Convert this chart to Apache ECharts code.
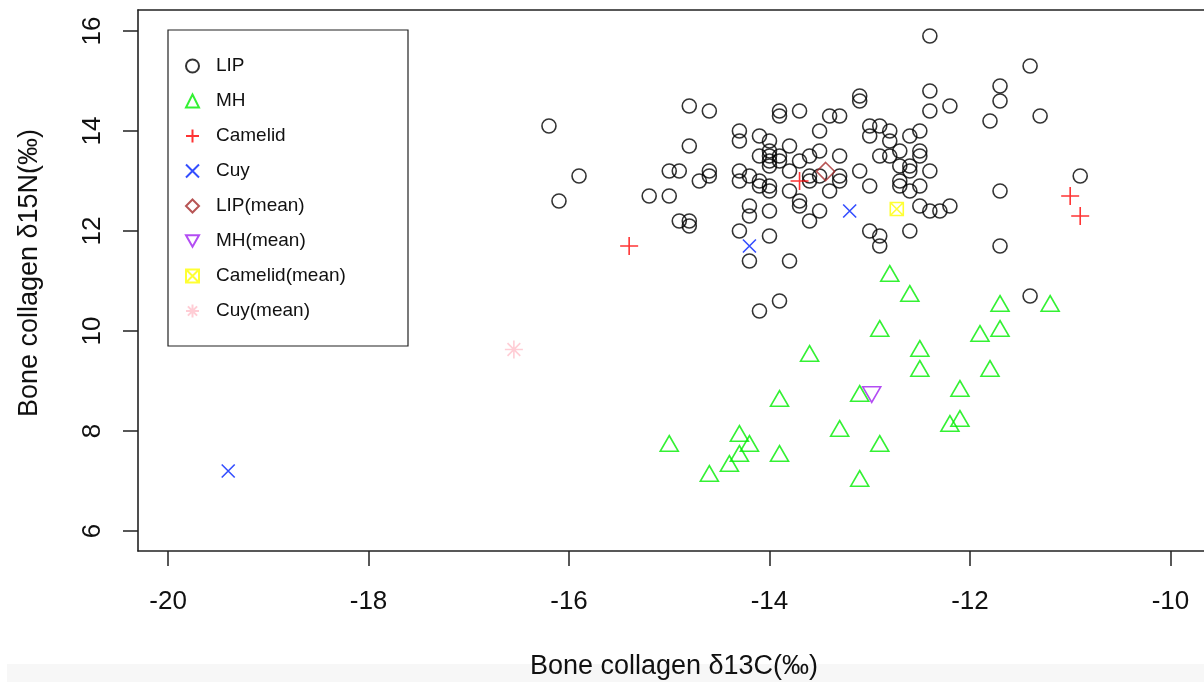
<!DOCTYPE html>
<html>
<head>
<meta charset="utf-8">
<script src="https://cdn.jsdelivr.net/npm/echarts@6/dist/echarts.min.js"></script>
<style>
html,body{margin:0;padding:0;background:#fff;}
#chart{width:1204px;height:682px;}
</style>
</head>
<body>
<div id="chart"></div>
<script>
// ---- data (δ13C, δ15N) ----
var lipPoints = [
  [-16.2,14.1],[-16.1,12.6],[-15.9,13.1],[-14.8,14.5],[-14.6,14.4],[-14.8,13.7],[-15.0,13.2],[-14.9,13.2],
  [-14.6,13.2],[-14.6,13.1],[-14.7,13.0],[-15.2,12.7],[-15.0,12.7],[-14.9,12.2],[-14.8,12.2],[-14.8,12.1],
  [-14.3,14.0],[-14.3,13.8],[-14.3,13.2],[-14.3,13.0],[-14.2,13.1],[-14.2,12.5],[-14.2,12.3],[-14.3,12.0],
  [-14.2,11.4],[-13.8,11.4],[-14.0,11.9],[-14.0,12.4],[-14.1,13.9],[-14.0,13.8],[-14.0,13.6],[-13.9,14.4],
  [-13.9,14.3],[-13.7,14.4],[-13.4,14.3],[-13.3,14.3],[-13.5,14.0],[-13.8,13.7],[-14.1,13.5],[-14.0,13.5],
  [-14.0,13.4],[-14.0,13.3],[-13.9,13.5],[-13.9,13.4],[-13.7,13.4],[-13.6,13.5],[-13.5,13.6],[-13.3,13.5],
  [-13.8,13.2],[-13.6,13.1],[-13.6,13.0],[-13.5,13.1],[-13.3,13.1],[-13.3,13.0],[-14.1,13.0],[-14.1,12.9],
  [-14.0,12.9],[-14.0,12.8],[-13.8,12.8],[-13.7,12.6],[-13.7,12.5],[-13.4,12.8],[-13.5,12.4],[-13.6,12.2],
  [-12.4,15.9],[-11.4,15.3],[-11.7,14.9],[-11.7,14.6],[-11.8,14.2],[-11.3,14.3],[-12.4,14.8],[-12.4,14.4],
  [-12.2,14.5],[-13.1,14.7],[-13.1,14.6],[-13.0,14.1],[-12.9,14.1],[-13.0,13.9],[-12.8,14.0],[-12.8,13.8],
  [-12.6,13.9],[-12.5,14.0],[-12.7,13.6],[-12.5,13.6],[-12.5,13.5],[-12.9,13.5],[-12.8,13.5],[-12.7,13.3],
  [-12.6,13.3],[-12.6,13.2],[-12.4,13.2],[-12.7,13.0],[-12.7,12.9],[-12.6,12.8],[-12.5,12.9],[-13.1,13.2],
  [-13.0,12.9],[-12.5,12.5],[-12.4,12.4],[-12.3,12.4],[-12.2,12.5],[-13.0,12.0],[-12.9,11.9],[-12.9,11.7],
  [-12.6,12.0],[-11.7,12.8],[-11.7,11.7],[-10.9,13.1],[-13.9,10.6],[-14.1,10.4],[-11.4,10.7]
];
var mhPoints = [
  [-12.8,11.1],[-12.9,10.0],[-13.6,9.5],[-13.9,8.6],[-13.1,8.7],[-13.3,8.0],[-12.9,7.7],[-13.1,7.0],
  [-15.0,7.7],[-14.3,7.9],[-14.2,7.7],[-14.3,7.5],[-14.4,7.3],[-14.6,7.1],[-13.9,7.5],[-12.6,10.7],
  [-11.7,10.5],[-11.2,10.5],[-11.9,9.9],[-11.7,10.0],[-12.5,9.6],[-12.5,9.2],[-11.8,9.2],[-12.1,8.8],
  [-12.1,8.2],[-12.2,8.1]
];
var camelidPoints = [[-15.4,11.7],[-13.7,13.0],[-11.0,12.7],[-10.9,12.3]];
var cuyPoints = [[-19.4,7.2],[-14.2,11.7],[-13.2,12.4]];
var lipMean = [[-13.44,13.19]];
var mhMean = [[-12.98,8.78]];
var camelidMean = [[-12.73,12.44]];
var cuyMean = [[-16.55,9.63]];
var xTicks = [-20,-18,-16,-14,-12,-10];
var yTicks = [6,8,10,12,14,16];
var seriesNames = ['LIP','MH','Camelid','Cuy','LIP(mean)','MH(mean)','Camelid(mean)','Cuy(mean)'];

var FONT = '"Liberation Sans", Arial, Helvetica, sans-serif';
var PLUS = 'path://M1,0L1,2M0,1L2,1';
var CROSS = 'path://M0,0L2,2M2,0L0,2';
var INVTRI = 'path://M0,0L2,0L1,1.732Z';
var BOXX = 'path://M0,0L2,0L2,2L0,2ZM0,0L2,2M2,0L0,2';
var STAR = 'path://M1,0L1,2M0,1L2,1M0.293,0.293L1.707,1.707M1.707,0.293L0.293,1.707';

function stroke(c, w){ return {color:'rgba(0,0,0,0)', borderColor:c, borderWidth:w||1.6}; }
var AXLINE = {show:true, lineStyle:{color:'#222', width:1.6}};

var chart = echarts.init(document.getElementById('chart'), null, {renderer:'canvas'});
chart.setOption({
  animation:false,
  backgroundColor:'#fff',
  graphic:[
    {type:'rect', z:-10, shape:{x:7,y:664,width:1197,height:18}, style:{fill:'#f7f7f7'}},
    {type:'rect', z:50, shape:{x:168,y:30,width:240,height:316}, style:{fill:'none', stroke:'#222', lineWidth:1.2}},
    {type:'text', z:50, x:674, y:667, style:{text:'Bone collagen δ13C(‰)', font:'27px '+FONT, fill:'#111', align:'center', verticalAlign:'middle'}},
    {type:'text', z:50, x:30, y:273, rotation:Math.PI/2, style:{text:'Bone collagen δ15N(‰)', font:'27px '+FONT, fill:'#111', align:'center', verticalAlign:'middle'}}
  ],
  legend:{
    orient:'vertical', left:185, top:56, padding:0, itemGap:15,
    itemWidth:13, itemHeight:13,
    data:seriesNames,
    textStyle:{fontFamily:FONT, fontSize:19, color:'#111', lineHeight:20, padding:[0,0,0,12]}
  },
  grid:{left:138, right:0, top:10, bottom:131},
  xAxis:[{
    type:'value', min:-20.3, max:-9.665, position:'bottom',
    axisLine:AXLINE, splitLine:{show:false},
    axisTick:{show:true, length:15, customValues:xTicks, lineStyle:{color:'#222', width:1.5}},
    axisLabel:{customValues:xTicks, margin:38, fontSize:26, fontFamily:FONT, color:'#111'}
  },{
    type:'value', min:-20.3, max:-9.665, position:'top',
    axisLine:AXLINE, splitLine:{show:false}, axisTick:{show:false}, axisLabel:{show:false}
  }],
  yAxis:{
    type:'value', min:5.6, max:16.42,
    axisLine:AXLINE, splitLine:{show:false},
    axisTick:{show:true, length:15, customValues:yTicks, lineStyle:{color:'#222', width:1.5}},
    axisLabel:{customValues:yTicks, margin:32, rotate:90, fontSize:26, fontFamily:FONT, color:'#111'}
  },
  series:[
    {name:'LIP', type:'scatter', data:lipPoints, symbol:'circle', symbolSize:14, itemStyle:stroke('#000')},
    {name:'MH', type:'scatter', data:mhPoints, symbol:'triangle', symbolSize:[18,15.5], symbolOffset:[0,-2.6], itemStyle:stroke('#00ee00')},
    {name:'Camelid', type:'scatter', data:camelidPoints, symbol:PLUS, symbolSize:18, itemStyle:stroke('#ff0000')},
    {name:'Cuy', type:'scatter', data:cuyPoints, symbol:CROSS, symbolSize:13, itemStyle:stroke('#0022ff')},
    {name:'LIP(mean)', type:'scatter', data:lipMean, symbol:'diamond', symbolSize:18, itemStyle:stroke('#a52a2a')},
    {name:'MH(mean)', type:'scatter', data:mhMean, symbol:INVTRI, symbolSize:[18,15.5], symbolOffset:[0,2.6], itemStyle:stroke('#a020f0')},
    {name:'Camelid(mean)', type:'scatter', data:camelidMean, symbol:BOXX, symbolSize:13, itemStyle:stroke('#ffff00')},
    {name:'Cuy(mean)', type:'scatter', data:cuyMean, symbol:STAR, symbolSize:18, itemStyle:stroke('#ffc0cb')}
  ]
});
</script>
</body>
</html>
